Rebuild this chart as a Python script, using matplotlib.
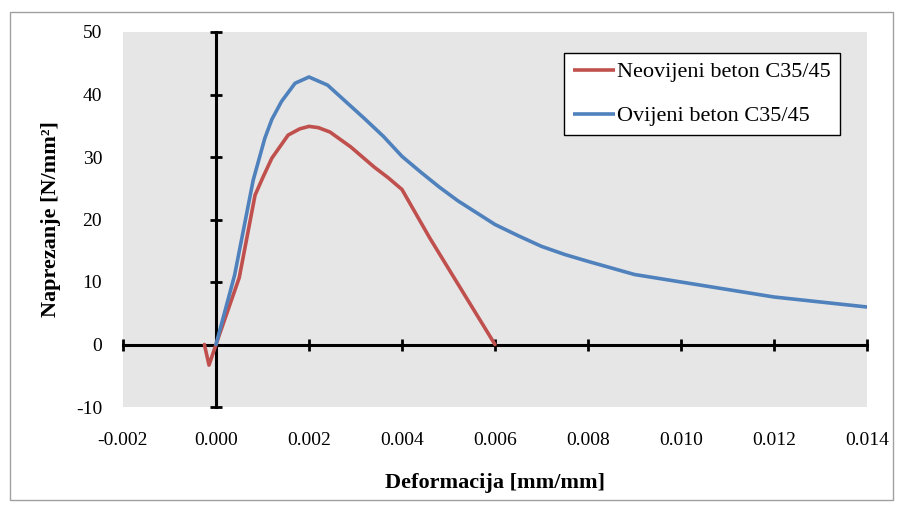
import numpy as np
import matplotlib
matplotlib.use('Agg')
from matplotlib import pyplot as plt
from matplotlib.patches import Rectangle

# data
neo_x = [-0.00025, -0.00015, 0.0, 0.0005, 0.00084, 0.001, 0.0012, 0.00155, 0.0018, 0.002,
         0.0022, 0.00245, 0.0029, 0.0034, 0.0037, 0.004, 0.0046, 0.006]
neo_y = [0.0, -3.3, 0.0, 10.7, 23.9, 26.6, 29.8, 33.5, 34.5, 34.9,
         34.7, 34.0, 31.6, 28.4, 26.7, 24.8, 17.0, 0.0]

ovi_x = [0.0, 0.0004, 0.0008, 0.00105, 0.0012, 0.00141, 0.0017, 0.002, 0.0024, 0.0028,
         0.0032, 0.0036, 0.004, 0.0044, 0.0048, 0.0052, 0.0056, 0.006, 0.0065, 0.007,
         0.0075, 0.008, 0.009, 0.010, 0.011, 0.012, 0.013, 0.014]
ovi_y = [0.0, 11.1, 26.3, 33.0, 36.0, 38.9, 41.8, 42.8, 41.5, 38.8,
         36.1, 33.3, 30.1, 27.6, 25.2, 23.0, 21.1, 19.2, 17.4, 15.7,
         14.4, 13.3, 11.2, 10.0, 8.8, 7.6, 6.8, 6.0]

labels = ['Neovijeni beton C35/45', 'Ovijeni beton C35/45']
x_ticks = np.arange(-0.002, 0.0141, 0.002)
y_ticks = np.arange(-10, 51, 10)

plt.rcParams['font.family'] = ['Liberation Serif', 'DejaVu Serif']

fig = plt.figure(figsize=(9.01, 5.09), dpi=100)
fig.patches.append(Rectangle((10 / 901, 1 - 500 / 509), 883 / 901, 488 / 509,
                             transform=fig.transFigure, fill=False,
                             edgecolor='#a0a0a0', linewidth=1))

rect = [123 / 901, 1 - 407 / 509, 744 / 901, 375 / 509]

# labels axes (tick labels at the frame edges, like Excel "low" labels)
lab = fig.add_axes(rect)
lab.set_facecolor('#e6e6e6')
for s in lab.spines.values():
    s.set_visible(False)
lab.set_xlim(-0.002, 0.014)
lab.set_ylim(-10, 50)
lab.set_xticks(x_ticks)
lab.set_yticks(y_ticks)
lab.set_xticklabels([f'{v:.3f}' for v in x_ticks])
lab.set_yticklabels([f'{v:.0f}' for v in y_ticks])
lab.tick_params(length=0, labelsize=14, pad=0)
lab.tick_params(axis='y', pad=15)
lab.tick_params(axis='x', pad=18)
lab.set_xlabel('Deformacija [mm/mm]', fontsize=16, fontweight='bold', labelpad=17)
lab.set_ylabel('Naprezanje [N/mm²]', fontsize=16, fontweight='bold', labelpad=11)

# crossing axes through zero
ax = fig.add_axes(rect, sharex=lab, sharey=lab)
ax.patch.set_alpha(0)
ax.spines['top'].set_visible(False)
ax.spines['right'].set_visible(False)
ax.spines['left'].set_position(('data', 0))
ax.spines['bottom'].set_position(('data', 0))
ax.spines['left'].set_linewidth(2.2)
ax.spines['bottom'].set_linewidth(2.2)
ax.tick_params(direction='inout', length=9, width=2, labelleft=False, labelbottom=False)

ax.plot(neo_x, neo_y, color='#c0504d', linewidth=2.6, label=labels[0],
        solid_joinstyle='round', solid_capstyle='round', zorder=3)
ax.plot(ovi_x, ovi_y, color='#4f81bd', linewidth=2.6, label=labels[1],
        solid_joinstyle='round', solid_capstyle='round', zorder=3)

leg = ax.legend(loc='upper right', bbox_to_anchor=(0.9637, 0.944), fontsize=16,
                frameon=True, fancybox=False, edgecolor='black', framealpha=1,
                handlelength=1.9, handletextpad=0.1, borderpad=0.4,
                borderaxespad=0, labelspacing=1.05)
leg.get_frame().set_linewidth(1.0)
for h in leg.get_lines():
    h.set_solid_capstyle('butt')

plt.savefig('out.png', dpi=100)
